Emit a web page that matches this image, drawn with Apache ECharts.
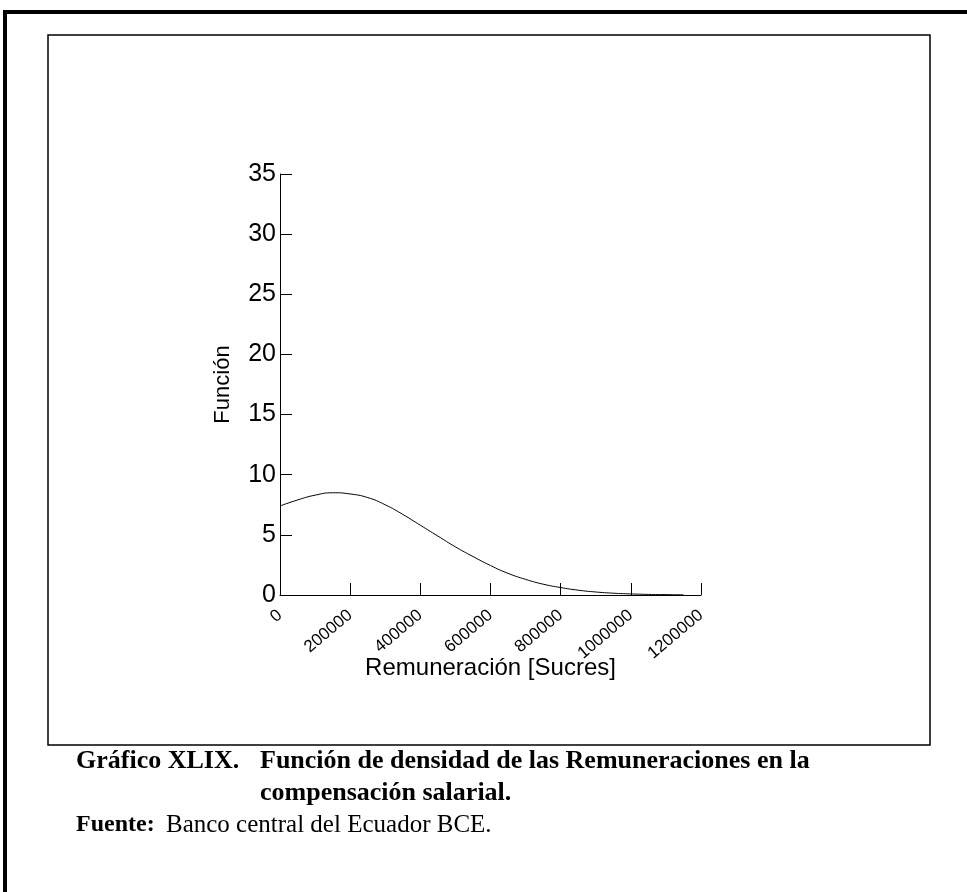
<!DOCTYPE html>
<html>
<head>
<meta charset="utf-8">
<script src="https://cdn.jsdelivr.net/npm/echarts@6/dist/echarts.min.js"></script>
<style>
  html, body { margin: 0; padding: 0; background: #fff; }
  #chart { width: 967px; height: 892px; }
</style>
</head>
<body>
<div id="chart"></div>
<script>
  // remuneración (sucres) and density
  var xValues = [0, 50000, 100000, 150000, 200000, 250000, 300000, 350000, 400000,
    450000, 500000, 550000, 600000, 650000, 700000, 750000, 800000, 850000,
    900000, 950000, 1000000, 1050000, 1100000, 1150000];
  var density = [7.4, 7.9, 8.3, 8.5, 8.4, 8.1, 7.5, 6.7, 5.8,
    4.9, 4.0, 3.2, 2.45, 1.8, 1.3, 0.9, 0.62, 0.4,
    0.25, 0.15, 0.09, 0.05, 0.03, 0.01];
  var yTicks = [0, 5, 10, 15, 20, 25, 30, 35];
  var xTicks = [0, 200000, 400000, 600000, 800000, 1000000, 1200000];

  var chart = echarts.init(document.getElementById("chart"));
  var font = "'Liberation Sans', Arial, sans-serif";
  var serif = "'Liberation Serif', 'Times New Roman', serif";

  chart.setOption({
    animation: false,
    grid: { left: 280, top: 174, width: 421, height: 421 },
    xAxis: {
      type: "value",
      min: xTicks[0],
      max: xTicks[xTicks.length - 1],
      interval: 200000,
      name: "Remuneración [Sucres]",
      nameLocation: "middle",
      nameGap: 61,
      nameMoveOverlap: false,
      nameTextStyle: { fontFamily: font, fontSize: 24, color: "#000" },
      axisLine: { lineStyle: { color: "#000", width: 1 } },
      axisTick: { inside: true, length: 12, lineStyle: { color: "#000" } },
      axisLabel: {
        rotate: 40, margin: 18, color: "#000",
        fontFamily: font, fontSize: 17,
        formatter: function (v) { return String(v); }
      },
      splitLine: { show: false }
    },
    yAxis: {
      type: "value",
      min: yTicks[0],
      max: yTicks[yTicks.length - 1],
      interval: 5,
      name: "Función",
      nameLocation: "middle",
      nameGap: 46,
      nameTextStyle: { fontFamily: font, fontSize: 22, color: "#000" },
      axisLine: { show: true, lineStyle: { color: "#000", width: 1 } },
      axisTick: { show: true, inside: true, length: 12, lineStyle: { color: "#000" } },
      axisLabel: { margin: 4, color: "#000", fontFamily: font, fontSize: 25 },
      splitLine: { show: false }
    },
    series: [{
      type: "line",
      smooth: true,
      showSymbol: false,
      lineStyle: { color: "#000", width: 1 },
      data: xValues.map(function (x, i) { return [x, density[i]]; })
    }],
    graphic: [
      { type: "line", shape: { x1: 3, y1: 12, x2: 967, y2: 12 }, style: { stroke: "#000", lineWidth: 4 } },
      { type: "line", shape: { x1: 5, y1: 10, x2: 5, y2: 892 }, style: { stroke: "#000", lineWidth: 4 } },
      { type: "rect", shape: { x: 48, y: 35, width: 882, height: 710 }, style: { fill: "none", stroke: "#000", lineWidth: 1.5 } },
      { type: "text", x: 76, y: 748, style: { text: "Gráfico XLIX.", font: "bold 26px " + serif, fill: "#000", verticalAlign: "top" } },
      { type: "text", x: 260, y: 748, style: { text: "Función de densidad de las Remuneraciones en la", font: "bold 26px " + serif, fill: "#000", verticalAlign: "top" } },
      { type: "text", x: 260, y: 780, style: { text: "compensación salarial.", font: "bold 26px " + serif, fill: "#000", verticalAlign: "top" } },
      { type: "text", x: 76, y: 813, style: { text: "Fuente:", font: "bold 24px " + serif, fill: "#000", verticalAlign: "top" } },
      { type: "text", x: 166, y: 813, style: { text: "Banco central del Ecuador BCE.", font: "25px " + serif, fill: "#000", verticalAlign: "top" } }
    ]
  });
</script>
</body>
</html>
